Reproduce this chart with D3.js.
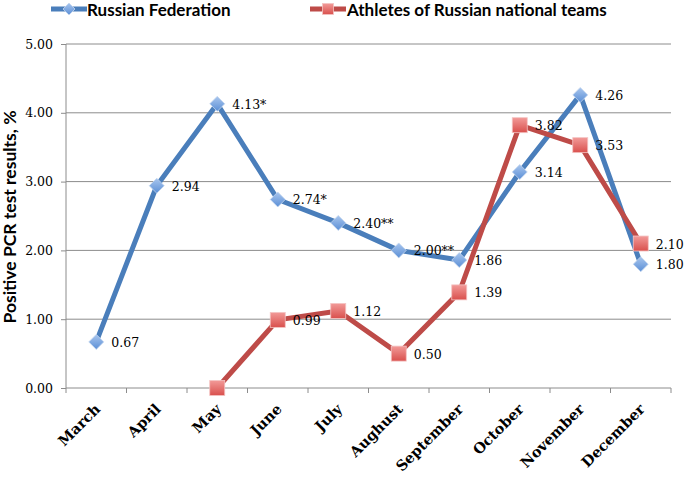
<!DOCTYPE html>
<html><head><meta charset="utf-8">
<script src="https://cdn.jsdelivr.net/npm/d3@7"></script>
<style>body{margin:0;background:#fff}svg{display:block}</style>
</head><body><svg id="c" width="685" height="477"></svg>
<script>
const months = ["March","April","May","June","July","Aughust","September","October","November","December"];
const russia = [0.67, 2.94, 4.13, 2.74, 2.40, 2.00, 1.86, 3.14, 4.26, 1.80];
const russiaLabels = ["0.67","2.94","4.13*","2.74*","2.40**","2.00**","1.86","3.14","4.26","1.80"];
const athletes = [null, null, 0.00, 0.99, 1.12, 0.50, 1.39, 3.82, 3.53, 2.10];
const athleteLabels = [null, null, null, "0.99","1.12","0.50","1.39","3.82","3.53","2.10"];
const yTicks = [0,1,2,3,4,5];
const seriesNames = ["Russian Federation","Athletes of Russian national teams"];

const svg = d3.select("#c");
const L = 66, R = 671, T = 44, B = 388;
const x = d3.scaleBand().domain(months).range([L, R]);
const y = d3.scaleLinear().domain([0,5]).range([B, T]);
const cx = m => x(m) + x.bandwidth()/2;

const defs = svg.append("defs");
const gb = defs.append("linearGradient").attr("id","gb").attr("x1",0).attr("y1",0).attr("x2",0).attr("y2",1);
gb.append("stop").attr("offset","0").attr("stop-color","#a9c6ee");
gb.append("stop").attr("offset","1").attr("stop-color","#5b8fd6");
const gr = defs.append("linearGradient").attr("id","gr").attr("x1",0).attr("y1",0).attr("x2",0).attr("y2",1);
gr.append("stop").attr("offset","0").attr("stop-color","#f29a98");
gr.append("stop").attr("offset","1").attr("stop-color","#d9504d");

// gridlines
svg.append("g").selectAll("line").data(yTicks.filter(d=>d>0)).join("line")
  .attr("x1", L).attr("x2", R).attr("y1", d=>y(d)).attr("y2", d=>y(d))
  .attr("stroke","#8c8c8c").attr("stroke-width",1);

// y axis
const ya = svg.append("g").attr("transform",`translate(${L},0)`)
  .call(d3.axisLeft(y).tickValues(yTicks).tickFormat(d3.format(".2f")).tickSize(5).tickPadding(8));
ya.select(".domain").attr("stroke","#8c8c8c").attr("d",`M0,${T}V${B}`);
ya.selectAll(".tick line").attr("stroke","#8c8c8c");
ya.selectAll(".tick text").attr("font-family","'DejaVu Serif', serif").attr("font-size",12.5).attr("fill","#000");

// x axis
const xa = svg.append("g").attr("transform",`translate(0,${B})`)
  .call(d3.axisBottom(x).tickSize(0).tickFormat(""));
xa.select(".domain").attr("stroke","#8c8c8c").attr("d",`M${L},0H${R}`);
const bounds = months.map(m=>x(m)).concat([R]);
xa.selectAll(".bt").data(bounds).join("line").attr("class","bt")
  .attr("x1",d=>d).attr("x2",d=>d).attr("y1",0).attr("y2",5).attr("stroke","#8c8c8c");
svg.append("g").selectAll("text").data(months).join("text")
  .attr("transform", d=>`translate(${cx(d)+5},${B+22}) rotate(-45)`)
  .attr("text-anchor","end")
  .attr("font-family","'DejaVu Serif', serif").attr("font-weight","bold").attr("font-size",14.5)
  .text(d=>d);

// y title
svg.append("text").attr("transform",`translate(15.5,217) rotate(-90)`)
  .attr("text-anchor","middle").attr("font-family","Lato, sans-serif").attr("font-weight","bold")
  .attr("font-size",17.5).text("Positive PCR test results, %");

const line = d3.line().defined(d=>d.v!=null).x(d=>cx(d.m)).y(d=>y(d.v));
const rd = months.map((m,i)=>({m, v:russia[i], l:russiaLabels[i]}));
const ad = months.map((m,i)=>({m, v:athletes[i], l:athleteLabels[i]}));

const blue = "#4a7ebb", red = "#be4b48";
const diamond = s => `M0,${-s}L${s},0L0,${s}L${-s},0Z`;

svg.append("path").datum(rd).attr("d",line).attr("fill","none").attr("stroke",blue).attr("stroke-width",5).attr("stroke-linejoin","round");
svg.append("path").datum(ad).attr("d",line).attr("fill","none").attr("stroke",red).attr("stroke-width",5).attr("stroke-linejoin","round");

svg.append("g").selectAll("path").data(rd).join("path")
  .attr("transform",d=>`translate(${cx(d.m)},${y(d.v)})`).attr("d",diamond(7.5))
  .attr("fill","url(#gb)").attr("stroke","#c5d7ef").attr("stroke-width",0.8);
svg.append("g").selectAll("rect").data(ad.filter(d=>d.v!=null)).join("rect")
  .attr("x",d=>cx(d.m)-7.5).attr("y",d=>y(d.v)-7.5).attr("width",15).attr("height",15)
  .attr("fill","url(#gr)").attr("stroke","#f4c4c3").attr("stroke-width",0.8);

const lab = (data) => svg.append("g").selectAll("text").data(data.filter(d=>d.l)).join("text")
  .attr("x",d=>cx(d.m)+15).attr("y",d=>y(d.v)+5)
  .attr("font-family","'DejaVu Serif', serif").attr("font-size",12.5).attr("fill","#000").text(d=>d.l);
lab(rd); lab(ad);

// legend
const lg = svg.append("g");
lg.append("line").attr("x1",51).attr("x2",87).attr("y1",9).attr("y2",9).attr("stroke",blue).attr("stroke-width",5);
lg.append("path").attr("transform","translate(69,9)").attr("d",diamond(6)).attr("fill","url(#gb)").attr("stroke","#c5d7ef").attr("stroke-width",0.8);
lg.append("text").attr("x",87).attr("y",16).attr("font-family","Lato, sans-serif").attr("font-weight","bold").attr("font-size",17).text(seriesNames[0]);
lg.append("line").attr("x1",310).attr("x2",346).attr("y1",9).attr("y2",9).attr("stroke",red).attr("stroke-width",5);
lg.append("rect").attr("x",322.5).attr("y",3.5).attr("width",11).attr("height",11).attr("fill","url(#gr)").attr("stroke","#f4c4c3").attr("stroke-width",0.8);
lg.append("text").attr("x",347).attr("y",16).attr("font-family","Lato, sans-serif").attr("font-weight","bold").attr("font-size",17).text(seriesNames[1]);
</script></body></html>
